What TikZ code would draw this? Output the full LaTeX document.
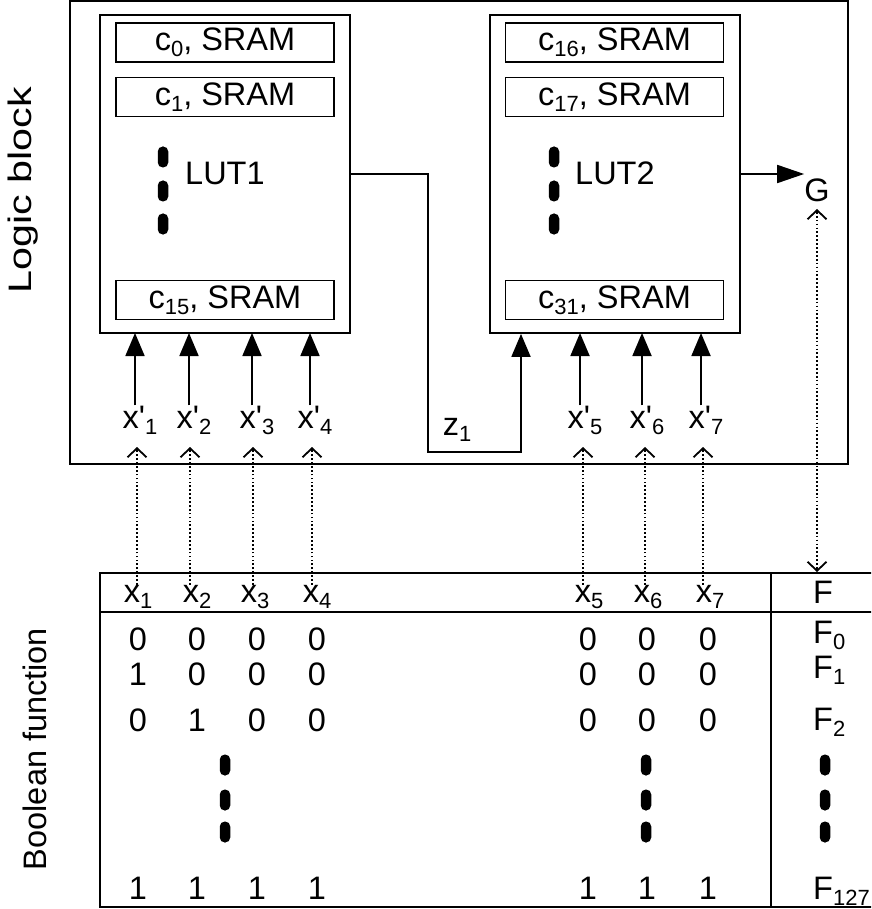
\documentclass[tikz,border=0pt]{standalone}
\usepackage{fontspec}
\setmainfont{Liberation Sans}[Ligatures=TeXOff]
\usetikzlibrary{arrows.meta}
\newcommand\mysub[1]{\raisebox{-6pt}{\fontsize{22}{22}\selectfont #1}}
\begin{document}
\begin{tikzpicture}[x=1pt,y=-1pt,
  font=\fontsize{32.5}{38}\selectfont,
  ln/.style={line width=1.8pt},
  lut/.style={draw, line width=1.8pt, minimum width=250pt, minimum height=318pt, inner sep=0},
  outer/.style={draw, line width=1.8pt, minimum width=778pt, minimum height=463pt, inner sep=0},
  sram/.style={draw, line width=1.8pt, minimum width=218pt, minimum height=39pt, inner sep=0},
  arr/.style={line width=1.8pt, -{Triangle[length=23pt,width=19pt]}},
  arrG/.style={line width=1.8pt, -{Triangle[length=27pt,width=18pt]}},
  dotline/.style={line width=1.7pt, dash pattern=on 1.7pt off 2.2pt},
  tipbarb/.style={line width=1.8pt, -{Straight Barb[length=9pt,width=19pt,line width=1.8pt]}},
  txt/.style={inner sep=0, anchor=base},
  vdot/.style={fill, rounded corners=5pt, minimum width=10.5pt, minimum height=21pt, inner sep=0}
]
\useasboundingbox (0,0) rectangle (871,909);
\clip (0,0) rectangle (871,909);

% side labels
\node[rotate=90, inner sep=0] (lbl1) at (23,190) {\scalebox{1.27}[1]{Logic block}};
\node[rotate=90, inner sep=0] (lbl2) at (35,749) {Boolean function};

% logic block
\node[outer] (lb) at (459,232.5) {};
\node[lut] (lut1) at (225,174) {};
\node[lut] (lut2) at (615,174) {};

\node[sram] (s0)  at (225,42.5) {c\mysub{0}, SRAM};
\node[sram] (s1)  at (225,97)   {c\mysub{1}, SRAM};
\node[sram] (s15) at (225,300)  {c\mysub{15}, SRAM};
\node[sram] (s16) at (614.5,42.5) {c\mysub{16}, SRAM};
\node[sram] (s17) at (614.5,97)   {c\mysub{17}, SRAM};
\node[sram] (s31) at (614.5,300)  {c\mysub{31}, SRAM};

\node[txt, anchor=base west] (l1) at (185,185) {LUT1};
\node[txt, anchor=base west] (l2) at (575,185) {LUT2};

\node[vdot] (ld1a) at (163,157) {};
\node[vdot] (ld1b) at (163,191) {};
\node[vdot] (ld1c) at (163,224) {};
\node[vdot] (ld2a) at (554,157) {};
\node[vdot] (ld2b) at (554,191) {};
\node[vdot] (ld2c) at (554,224) {};

% input labels
\node[txt] (p1) at (140,428) {x'\mysub{1}};
\node[txt] (p2) at (194,428) {x'\mysub{2}};
\node[txt] (p3) at (257,428) {x'\mysub{3}};
\node[txt] (p4) at (315,428) {x'\mysub{4}};
\node[txt] (p5) at (585,428) {x'\mysub{5}};
\node[txt] (p6) at (647,428) {x'\mysub{6}};
\node[txt] (p7) at (706,428) {x'\mysub{7}};
\node[txt] (z1) at (457,435) {z\mysub{1}};

\coordinate (a1) at (135,333);
\coordinate (a2) at (189,333);
\coordinate (a3) at (252,333);
\coordinate (a4) at (310,333);
\coordinate (a5) at (580,333);
\coordinate (a6) at (642,333);
\coordinate (a7) at (701,333);
\foreach \i in {1,...,7} {
  \draw[arr] (p\i.north -| a\i) -- (a\i);
}

% z1 connection
\coordinate (k1) at (428,452);
\coordinate (k2) at (521,452);
\draw[arr] (lut1.east) -| (k1) -- (k2) -- (k2 |- lut2.south);

% output G
\node[txt] (G) at (817,202) {G};
\draw[arrG] (lut2.east) -- (lut2.east -| G.west);

% table
\coordinate (tl) at (100,573);
\coordinate (tr) at (880,573);
\coordinate (hl) at (100,612);
\coordinate (hr) at (880,612);
\coordinate (bl) at (100,907);
\coordinate (br) at (880,907);
\coordinate (vt) at (771,573);
\coordinate (vb) at (771,907);
\draw[ln] (tr) -- (tl) -- (bl) -- (br);
\draw[ln] (hl) -- (hr);
\draw[ln] (vt) -- (vb);

\node[txt] (h1) at (138,602) {x\mysub{1}};
\node[txt] (h2) at (197,602) {x\mysub{2}};
\node[txt] (h3) at (255,602) {x\mysub{3}};
\node[txt] (h4) at (317,602) {x\mysub{4}};
\node[txt] (h5) at (589,602) {x\mysub{5}};
\node[txt] (h6) at (648,602) {x\mysub{6}};
\node[txt] (h7) at (710,602) {x\mysub{7}};
\node[txt, anchor=base west] (hF) at (813,603) {F};

\coordinate (d1) at (137,447);
\coordinate (d2) at (190,447);
\coordinate (d3) at (253,447);
\coordinate (d4) at (312,447);
\coordinate (d5) at (583,447);
\coordinate (d6) at (645,447);
\coordinate (d7) at (703,447);
\foreach \i in {1,...,7} {
  \draw[dotline] (h\i.north -| d\i) -- ([yshift=-3pt]d\i);
  \draw[tipbarb] ([yshift=-3pt]d\i) -- (d\i);
}
\coordinate (gF) at (817,209);
\coordinate (gB) at (817,572);
\draw[dotline] ([yshift=-3pt]gF) -- ([yshift=3pt]gB);
\draw[tipbarb] ([yshift=-3pt]gF) -- (gF);
\draw[tipbarb] ([yshift=3pt]gB) -- (gB);

% rows
\foreach \yy/\a/\b/\c/\d/\e/\f/\g [count=\r] in
  {650/0/0/0/0/0/0/0, 685/1/0/0/0/0/0/0, 731/0/1/0/0/0/0/0, 899/1/1/1/1/1/1/1} {
  \node[txt] (v\r-1) at (138,\yy) {\a};
  \node[txt] (v\r-2) at (197,\yy) {\b};
  \node[txt] (v\r-3) at (257,\yy) {\c};
  \node[txt] (v\r-4) at (317,\yy) {\d};
  \node[txt] (v\r-5) at (588,\yy) {\e};
  \node[txt] (v\r-6) at (647,\yy) {\f};
  \node[txt] (v\r-7) at (708,\yy) {\g};
}
\node[txt, anchor=base west] (F0) at (813,643) {F\mysub{0}};
\node[txt, anchor=base west] (F1) at (813,678) {F\mysub{1}};
\node[txt, anchor=base west] (F2) at (813,730) {F\mysub{2}};
\node[txt, anchor=base west] (F127) at (813,899) {F\mysub{127}};

\foreach \xx/\n in {225/a,646/b,825/c} {
  \node[vdot] (td\n1) at (\xx,765) {};
  \node[vdot] (td\n2) at (\xx,800) {};
  \node[vdot] (td\n3) at (\xx,832) {};
}
\end{tikzpicture}
\end{document}
